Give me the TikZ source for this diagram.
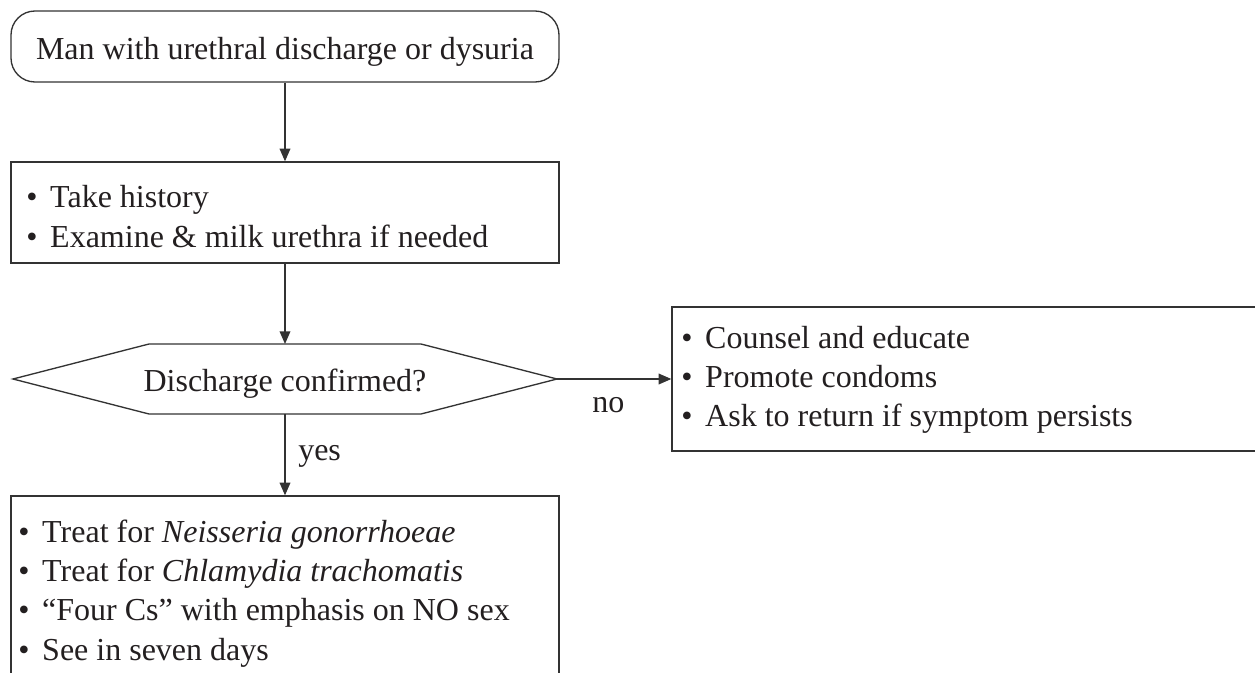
\documentclass[tikz,border=0pt]{standalone}
\usepackage{fontspec}
\setmainfont{Liberation Serif}
\usetikzlibrary{arrows.meta}
\definecolor{ink}{HTML}{231F20}
\definecolor{rule}{HTML}{333333}
% bullet followed by a fixed gap before the item text
\newcommand\blt{\makebox[18pt][l]{\textbullet}}
\begin{document}
\begin{tikzpicture}[x=0.75pt,y=-0.75pt,
  txt/.style={inner sep=0pt, text=ink, font=\fontsize{24}{29.5}\selectfont},
  lines/.style={txt, anchor=base west},
  frame/.style={draw=rule, line width=1pt, inner sep=0pt, minimum width=411pt},
  arr/.style={draw=rule, line width=1pt, -{Triangle[length=9.5pt,width=8pt]}}]
\useasboundingbox (0,0) rectangle (1255,673);

% boxes
\node[frame, rounded corners=18pt, minimum height=53.25pt] (start) at (285,46.5) {};
\node[frame, minimum height=75.75pt] (exam) at (285,212.5) {};
\node[frame, minimum height=153pt] (treat) at (285,598) {};
\node[frame, minimum width=452.25pt, minimum height=108pt] (advise) at (973.5,379) {};

% decision hexagon
\coordinate (askW) at (13,379);
\coordinate (askNW) at (149,344);
\coordinate (askN) at (285,344);
\coordinate (askNE) at (421,344);
\coordinate (askE) at (557,379);
\coordinate (askSE) at (421,414);
\coordinate (askS) at (285,414);
\coordinate (askSW) at (149,414);
\draw[draw=rule, line width=1pt] (askW) -- (askNW) -- (askNE) -- (askE) -- (askSE) -- (askSW) -- cycle;

% texts
\node[txt, anchor=base] (startT) at (285,60) {Man with urethral discharge or dysuria};
\node[lines] (examT) at (26,208) {\begin{tabular}[t]{@{}l@{}}
  \blt Take history\\
  \blt Examine \& milk urethra if needed
\end{tabular}};
\node[txt, anchor=base] (ask) at (285,391) {Discharge confirmed?};
\node[lines] (adviseT) at (681,348) {\begin{tabular}[t]{@{}l@{}}
  \blt Counsel and educate\\
  \blt Promote condoms\\
  \blt Ask to return if symptom persists
\end{tabular}};
\node[lines] (treatT) at (18,542) {\begin{tabular}[t]{@{}l@{}}
  \blt Treat for \textit{Neisseria gonorrhoeae}\\
  \blt Treat for \textit{Chlamydia trachomatis}\\
  \blt ``Four Cs'' with emphasis on NO sex\\
  \blt See in seven days
\end{tabular}};
\node[lines] (yes) at (298,460) {yes};
\node[lines] (no) at (592,412) {no};

% connectors
\draw[arr] (start.south) -- (exam.north);
\draw[arr] (exam.south) -- (askN);
\draw[arr] (askS) -- (treat.north);
\draw[arr] (askE) -- (advise.west);
\end{tikzpicture}
\end{document}
